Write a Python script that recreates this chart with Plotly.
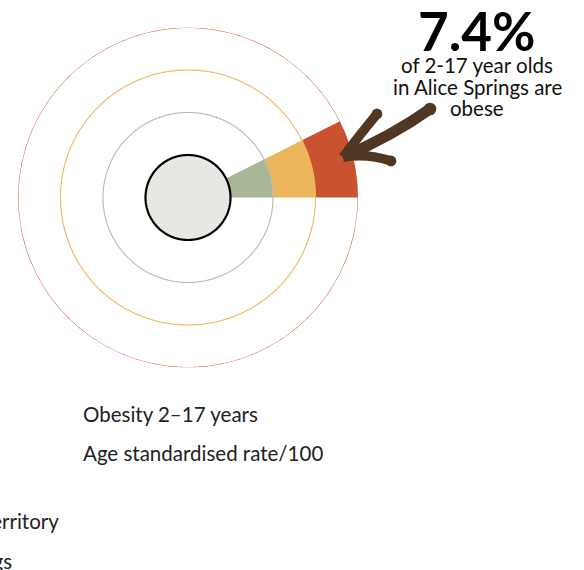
import numpy as np
import plotly.graph_objects as go

# ---- data ----
regions = ["Australia", "Northern Territory", "Alice Springs"]
obesity_pct = [7.4, 7.4, 7.4]          # age standardised rate /100, 2-17 years
ring_base = [1, 2, 3]                   # ring each region occupies
wedge_colors = ["#a8b597", "#ebb55c", "#cb522f"]
ring_colors = ["#b5bcaa", "#edb85e", "#cd5334"]
headline_value = 7.4
headline_lines = ["of 2-17 year olds", "in Alice Springs are", "obese"]
title_lines = ["Obesity 2\u201317 years", "Age standardised rate/100"]

W, H = 584, 570
cx, cy, R = 188, 197.5, 170

fig = go.Figure()

# wedges
for reg, v, b, c in zip(regions, obesity_pct, ring_base, wedge_colors):
    ang = v / 100 * 360
    fig.add_trace(go.Barpolar(r=[1], base=[b], theta=[ang / 2], width=[ang],
                              marker=dict(color=c, line=dict(width=0)),
                              name=reg, showlegend=False, hoverinfo="skip"))

theta_full = np.linspace(0, 360, 721)
for b, c in zip(ring_base, ring_colors):
    fig.add_trace(go.Scatterpolar(r=np.full_like(theta_full, b + 1), theta=theta_full,
                                  mode="lines", line=dict(color=c, width=1.1),
                                  showlegend=False, hoverinfo="skip"))
# centre disc
fig.add_trace(go.Scatterpolar(r=np.full_like(theta_full, 1), theta=theta_full,
                              mode="lines", fill="toself", fillcolor="#e6e9e3",
                              line=dict(color="#000000", width=2.2),
                              showlegend=False, hoverinfo="skip"))

fig.update_layout(
    width=W, height=H, margin=dict(l=0, r=0, t=0, b=0),
    paper_bgcolor="white", plot_bgcolor="white",
    polar=dict(
        domain=dict(x=[(cx - R) / W, (cx + R) / W],
                    y=[(H - cy - R) / H, (H - cy + R) / H]),
        bgcolor="rgba(0,0,0,0)",
        radialaxis=dict(range=[0, 4], visible=False, showgrid=False),
        angularaxis=dict(visible=False, showgrid=False, rotation=0,
                         direction="counterclockwise"),
        barmode="overlay",
    ),
    showlegend=False,
)

def px(x):
    return x / W

def py(y):
    return 1 - y / H

brown = "#503723"

def P(x, y):
    return f"{px(x):.5f},{py(y):.5f}"

shapes = []
# shaft
shapes.append(dict(type="path", xref="paper", yref="paper",
                   path=f"M {P(430,109)} Q {P(392,136)} {P(343,157)}",
                   line=dict(color=brown, width=11)))
# upper barb
shapes.append(dict(type="path", xref="paper", yref="paper",
                   path=f"M {P(377,114)} Q {P(362,132)} {P(343,157)}",
                   line=dict(color=brown, width=9.5)))
# lower barb
shapes.append(dict(type="path", xref="paper", yref="paper",
                   path=f"M {P(343,157)} Q {P(368,153)} {P(391,161)}",
                   line=dict(color=brown, width=9.5)))
# rounded ends
for (x, y, r) in [(430, 109, 6.3), (377, 114, 5.4), (391, 161, 5.4)]:
    shapes.append(dict(type="circle", xref="paper", yref="paper",
                       x0=px(x - r), x1=px(x + r), y0=py(y + r), y1=py(y - r),
                       fillcolor=brown, line=dict(width=0)))
fig.update_layout(shapes=shapes)

ann = []
ann.append(dict(text=f"<b>{headline_value}%</b>", x=px(477), y=py(31),
                xref="paper", yref="paper", xanchor="center", yanchor="middle",
                showarrow=False, font=dict(family="Lato", size=53, color="#000")))
for i, t in enumerate(headline_lines):
    ann.append(dict(text=t, x=px(477), y=py(65 + 21.5 * i),
                    xref="paper", yref="paper",
                    xanchor="center", yanchor="middle", showarrow=False,
                    font=dict(family="Lato", size=20.5, color="#111")))
for i, t in enumerate(title_lines):
    ann.append(dict(text=t, x=px(81), y=py(414 + 39 * i), xref="paper", yref="paper",
                    xanchor="left", yanchor="middle", showarrow=False,
                    font=dict(family="Lato", size=20.5, color="#222")))
# legend labels (clipped at the left edge)
leg_right = [61, 14]
leg_y = [521, 561]
for reg, xr, yy in zip(regions[1:], leg_right, leg_y):
    ann.append(dict(text=reg, x=px(xr), y=py(yy), xref="paper", yref="paper",
                    xanchor="right", yanchor="middle", showarrow=False,
                    font=dict(family="Lato", size=20.5, color="#222")))
fig.update_layout(annotations=ann)

fig.write_html("out.html", config={"displayModeBar": False},
               post_script="document.body.style.margin='0';document.body.style.padding='0';")
